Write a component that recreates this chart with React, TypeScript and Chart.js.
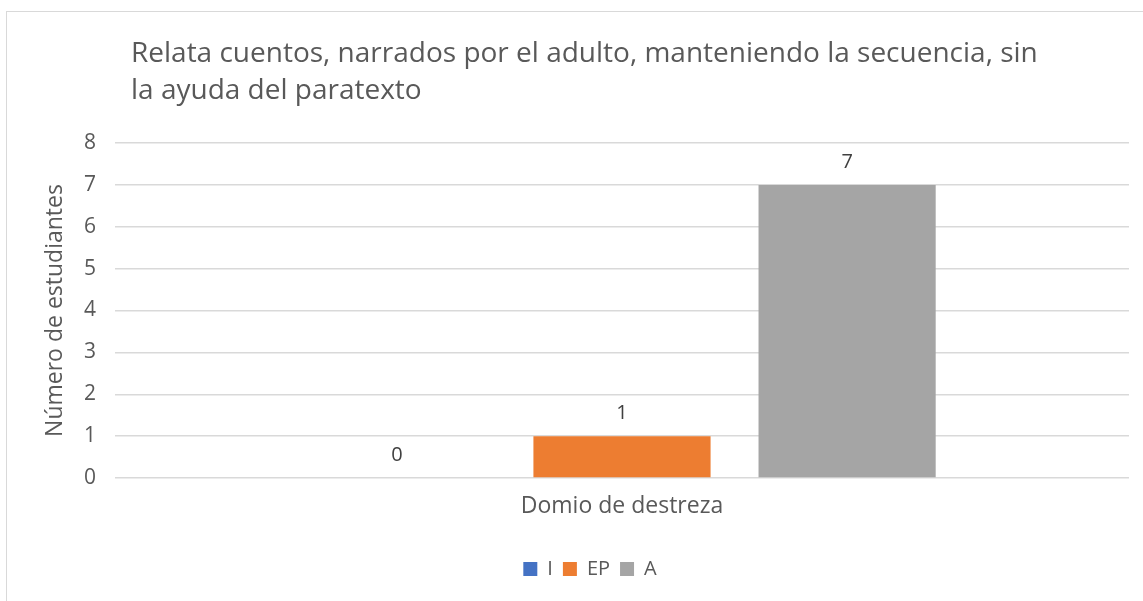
import React, { useEffect, useRef } from "react";
import { Chart, registerables } from "chart.js";

Chart.register(...registerables);

const categories = ["Domio de destreza"];
const seriesNames = ["I", "EP", "A"];
const seriesI = [0];
const seriesEP = [1];
const seriesA = [7];
const seriesColors = ["#4472C4", "#ED7D31", "#A5A5A5"];
const titleLines = [
  "Relata cuentos, narrados por el adulto, manteniendo la secuencia, sin",
  "la ayuda del paratexto",
];
const yAxisTitle = "Número de estudiantes";
const yMin = 0;
const yMax = 8;
const yStep = 1;

const FONT = "'Open Sans', 'Noto Sans', sans-serif";
const TEXT = "#595959";

const titlePlugin = {
  id: "leftTitle",
  afterDraw(chart: any) {
    const ctx = chart.ctx;
    ctx.save();
    ctx.font = `28px ${FONT}`;
    ctx.fillStyle = TEXT;
    ctx.textAlign = "left";
    ctx.textBaseline = "alphabetic";
    titleLines.forEach((t, i) => ctx.fillText(t, 131, 62 + i * 37));
    ctx.restore();
  },
};

const valueLabelPlugin = {
  id: "valueLabels",
  afterDatasetsDraw(chart: any) {
    const ctx = chart.ctx;
    ctx.save();
    ctx.font = `20px ${FONT}`;
    ctx.fillStyle = "#404040";
    ctx.textAlign = "center";
    ctx.textBaseline = "alphabetic";
    chart.data.datasets.forEach((ds: any, di: number) => {
      const meta = chart.getDatasetMeta(di);
      meta.data.forEach((el: any, i: number) => {
        ctx.fillText(String(ds.data[i]), el.x, el.y - 17);
      });
    });
    ctx.restore();
  },
};

export default function App() {
  const ref = useRef<HTMLCanvasElement | null>(null);

  useEffect(() => {
    if (!ref.current) return;
    const seriesData = [seriesI, seriesEP, seriesA];
    const chart = new Chart(ref.current, {
      type: "bar",
      data: {
        labels: categories,
        datasets: seriesNames.map((name, i) => ({
          label: name,
          data: seriesData[i],
          backgroundColor: seriesColors[i],
          borderWidth: 0,
          categoryPercentage: 0.666,
          barPercentage: 0.787,
        })),
      },
      options: {
        responsive: false,
        animation: false,
        layout: { padding: { left: 51, right: 14, top: 143, bottom: 12 } },
        plugins: {
          legend: {
            position: "bottom",
            labels: {
              boxWidth: 14,
              boxHeight: 14,
              padding: 10,
              color: TEXT,
              font: { family: FONT, size: 20 },
            },
          },
          title: { display: false },
          tooltip: { enabled: false },
        },
        scales: {
          x: {
            grid: { display: false },
            border: { display: false },
            ticks: { color: TEXT, font: { family: FONT, size: 23 }, padding: 7 },
            afterFit(s: any) {
              s.height = 71;
            },
          },
          y: {
            min: yMin,
            max: yMax,
            ticks: { stepSize: yStep, padding: 19, color: TEXT, font: { family: FONT, size: 21 } },
            grid: { color: "#D9D9D9", lineWidth: 1.5, drawTicks: false, tickLength: 0 },
            border: { display: false },
            title: {
              display: true,
              text: yAxisTitle,
              color: TEXT,
              font: { family: FONT, size: 23 },
              padding: { top: -9, bottom: 0 },
            },
            afterFit(s: any) {
              s.width = 64;
            },
          },
        },
      } as any,
      plugins: [titlePlugin, valueLabelPlugin],
    });
    return () => chart.destroy();
  }, []);

  return (
    <div style={{ position: "fixed", left: 0, top: 0, width: 1143, height: 601, background: "#fff", overflow: "hidden" }}>
      <div style={{ position: "absolute", left: 6, top: 11, width: 1200, height: 700, border: "1px solid #D9D9D9" }} />
      <canvas ref={ref} width={1143} height={601} style={{ position: "absolute", left: 0, top: 0 }} />
    </div>
  );
}
